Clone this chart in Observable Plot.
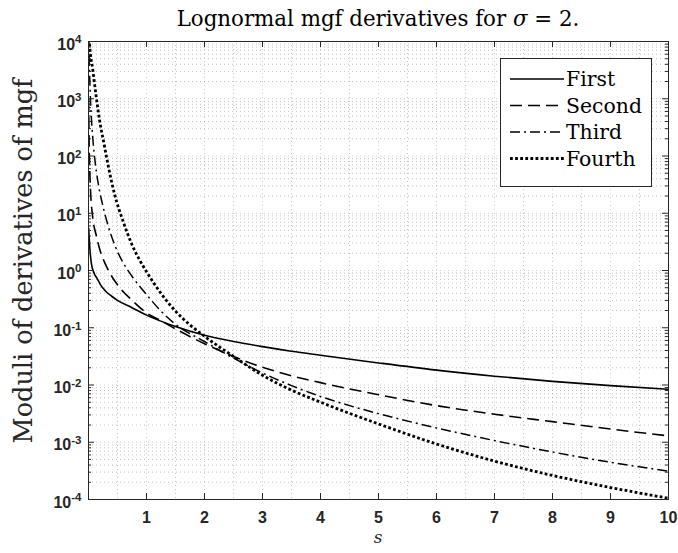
<!DOCTYPE html>
<html><head><meta charset="utf-8">
<script src="https://cdn.jsdelivr.net/npm/d3@7"></script>
<script src="https://cdn.jsdelivr.net/npm/@observablehq/plot@0.6"></script>
<style>
body{margin:0;background:#fff;}
#chart{width:678px;height:553px;}
</style></head><body><div id="chart"></div>
<script>
// ---- data ----
const seriesNames = ["First", "Second", "Third", "Fourth"];

const sFirst = [0.003, 0.01, 0.03, 0.05, 0.1, 0.15, 0.2, 0.3, 0.4, 0.5, 0.75, 1, 1.5, 2, 2.5, 3, 3.5, 4, 5, 6, 7, 8, 9, 10];
const vFirst = [5.6, 3.98, 2.0, 1.32, 0.88, 0.72, 0.58, 0.43, 0.355, 0.30, 0.224, 0.166, 0.105, 0.074, 0.0575, 0.0468, 0.0389, 0.0331, 0.0243, 0.0182, 0.01426, 0.01159, 0.00975, 0.00841];

const sSecond = [0.002, 0.008, 0.015, 0.034, 0.07, 0.132, 0.2, 0.287, 0.4, 0.563, 0.75, 1, 1.25, 1.5, 2, 2.5, 3, 3.5, 4, 5, 6, 7, 8, 9, 10];
const vSecond = [1000, 251, 100, 26.3, 8.9, 4.17, 2.24, 1.32, 0.794, 0.468, 0.302, 0.182, 0.132, 0.0955, 0.0525, 0.0316, 0.0204, 0.0145, 0.011, 0.00676, 0.00437, 0.00309, 0.00229, 0.0017, 0.00129];

const sThird = [0.006, 0.01, 0.02, 0.04, 0.075, 0.12, 0.18, 0.25, 0.333, 0.45, 0.6, 0.75, 1, 1.25, 1.5, 2, 2.5, 3, 3.5, 4, 5, 6, 7, 8, 9, 10];
const vThird = [12600, 5620, 2510, 708, 200, 70.8, 28.2, 13.2, 6.31, 2.82, 1.35, 0.794, 0.38, 0.195, 0.115, 0.0575, 0.0295, 0.0162, 0.00977, 0.00631, 0.00316, 0.00178, 0.00107, 0.000676, 0.000447, 0.000313];

const sFourth = [0.012, 0.017, 0.075, 0.132, 0.19, 0.276, 0.362, 0.45, 0.6, 0.75, 0.9, 1, 1.25, 1.5, 1.75, 2, 2.5, 3, 3.5, 4, 5, 6, 7, 8, 9, 10];
const vFourth = [11200, 9330, 3160, 1100, 427, 148, 52.5, 21.4, 7.08, 2.82, 1.41, 0.955, 0.398, 0.195, 0.112, 0.0708, 0.0316, 0.0148, 0.00813, 0.00501, 0.00209, 0.000933, 0.000468, 0.000263, 0.000162, 0.000105];

const xTicks = [1, 2, 3, 4, 5, 6, 7, 8, 9, 10];
const xHalfGrid = [0.5, 1.5, 2.5, 3.5, 4.5, 5.5, 6.5, 7.5, 8.5, 9.5];
const yTicks = [1e-4, 1e-3, 1e-2, 1e-1, 1e0, 1e1, 1e2, 1e3, 1e4];

const titleText = ["Lognormal mgf derivatives for ", "σ", " = 2."];
const xLabel = "s";
const yLabel = "Moduli of derivatives of mgf";

// ---- styles ----
const ink = "#262626";
const lineStyles = [
  {strokeWidth: 1.6, dash: null},
  {strokeWidth: 1.6, dash: "12,6"},
  {strokeWidth: 1.5, dash: "10,4,2,4"},
  {strokeWidth: 2.8, dash: "2.8,2.3"}
];

const sArr = [sFirst, sSecond, sThird, sFourth];
const vArr = [vFirst, vSecond, vThird, vFourth];
const seriesData = seriesNames.map((name, i) => sArr[i].map((s, j) => ({name, s, v: vArr[i][j]})));

// minor log ticks 2..9 in every decade
const yMinor = [];
for (let k = 0; k < yTicks.length - 1; k++) for (let m = 2; m <= 9; m++) yMinor.push(m * yTicks[k]);

const W = 678, H = 553, mL = 88, mR = 10, mT = 41, mB = 54;
const iW = W - mL - mR, iH = H - mT - mB;

const gridMajor = {stroke: ink, strokeOpacity: 0.22, strokeDasharray: "1,3"};
const gridMinor = {stroke: ink, strokeOpacity: 0.28, strokeDasharray: "1,3"};
const sans = "Liberation Sans, Arial, sans-serif";

const marks = [
  Plot.ruleY(yMinor, {y: d => d, ...gridMinor}),
  Plot.ruleY(yTicks, {y: d => d, ...gridMajor}),
  Plot.ruleX(xHalfGrid, {x: d => d, ...gridMinor}),
  Plot.ruleX(xTicks, {x: d => d, ...gridMajor}),
  ...seriesData.map((data, i) => Plot.line(data, {
    x: "s", y: "v", stroke: "#000", strokeWidth: lineStyles[i].strokeWidth,
    strokeDasharray: lineStyles[i].dash, curve: "monotone-x", clip: true,
    strokeLinecap: "butt", strokeLinejoin: "round"
  })),
  // inward ticks
  Plot.ruleX(xTicks, {x: d => d, insetTop: iH - 6, stroke: ink}),
  Plot.ruleX(xTicks, {x: d => d, insetBottom: iH - 6, stroke: ink}),
  Plot.ruleY(yTicks, {y: d => d, insetRight: iW - 6, stroke: ink}),
  Plot.ruleY(yTicks, {y: d => d, insetLeft: iW - 6, stroke: ink}),
  Plot.ruleY(yMinor, {y: d => d, insetRight: iW - 3, stroke: ink}),
  Plot.ruleY(yMinor, {y: d => d, insetLeft: iW - 3, stroke: ink}),
  Plot.frame({stroke: ink, strokeWidth: 1}),
  // tick labels
  Plot.text(xTicks, {x: d => d, frameAnchor: "bottom", lineAnchor: "middle", dy: 18,
    text: d => String(d), fontWeight: "bold", fontSize: 16, fill: ink, fontFamily: sans}),
  Plot.text(yTicks, {y: d => d, frameAnchor: "left", lineAnchor: "middle", textAnchor: "end",
    dx: -7, dy: 3, text: d => "10^" + Math.round(Math.log10(d)), fontWeight: "bold", fontSize: 16,
    fill: ink, fontFamily: sans})
];

const svg = Plot.plot({
  width: W, height: H,
  marginLeft: mL, marginRight: mR, marginTop: mT, marginBottom: mB,
  x: {domain: [0, 10], axis: null},
  y: {type: "log", domain: [1e-4, 1e4], axis: null},
  style: {background: "#fff", overflow: "visible"},
  marks
});
document.getElementById("chart").appendChild(svg);

const root = d3.select(svg);

// superscript exponents on y tick labels
root.selectAll("text").each(function () {
  const t = this.textContent;
  const m = /^10\^(-?\d+)$/.exec(t);
  if (!m) return;
  const sel = d3.select(this);
  sel.text(null);
  sel.append("tspan").text("10");
  sel.append("tspan").attr("dy", "-0.55em").attr("font-size", 11.5).text(m[1]);
});

const serif = "'DejaVu Serif', 'Liberation Serif', serif";
function fit(sel, target) {
  const node = sel.node();
  const base = +sel.attr("font-size");
  const len = node.getComputedTextLength();
  if (len > 0) sel.attr("font-size", base * target / len);
}

// title
const title = root.append("text").attr("x", mL + iW / 2).attr("y", 26)
  .attr("text-anchor", "middle").attr("font-family", serif).attr("font-size", 20).attr("fill", "#000");
titleText.forEach((t, i) => title.append("tspan").attr("font-style", i === 1 ? "italic" : null).text(t));
fit(title, 403);

// y label
const yl = root.append("text").attr("transform", `translate(32,${261}) rotate(-90)`)
  .attr("text-anchor", "middle").attr("font-family", serif).attr("font-size", 22).attr("fill", ink)
  .text(yLabel);
fit(yl, 365);

// x label
root.append("text").attr("x", mL + iW / 2).attr("y", 543).attr("text-anchor", "middle")
  .attr("font-family", serif).attr("font-style", "italic").attr("font-size", 17).attr("fill", ink)
  .text(xLabel);

// legend
const lg = root.append("g");
lg.append("rect").attr("x", 500.5).attr("y", 58.5).attr("width", 151).attr("height", 128)
  .attr("fill", "#fff").attr("stroke", ink).attr("stroke-width", 1);
const legendTexts = [];
seriesNames.forEach((name, i) => {
  const y = 79 + i * 26.5;
  lg.append("line").attr("x1", 510).attr("x2", 564).attr("y1", y).attr("y2", y)
    .attr("stroke", "#000").attr("stroke-width", lineStyles[i].strokeWidth)
    .attr("stroke-dasharray", lineStyles[i].dash);
  const t = lg.append("text").attr("x", 566).attr("y", y + 7).attr("font-family", serif)
    .attr("text-anchor", "start").attr("font-size", 20).attr("fill", "#000").text(name);
  legendTexts.push(t);
});
fit(legendTexts[1], 76);
const secondSize = legendTexts[1].attr("font-size");
legendTexts.forEach(t => t.attr("font-size", secondSize));
</script></body></html>
